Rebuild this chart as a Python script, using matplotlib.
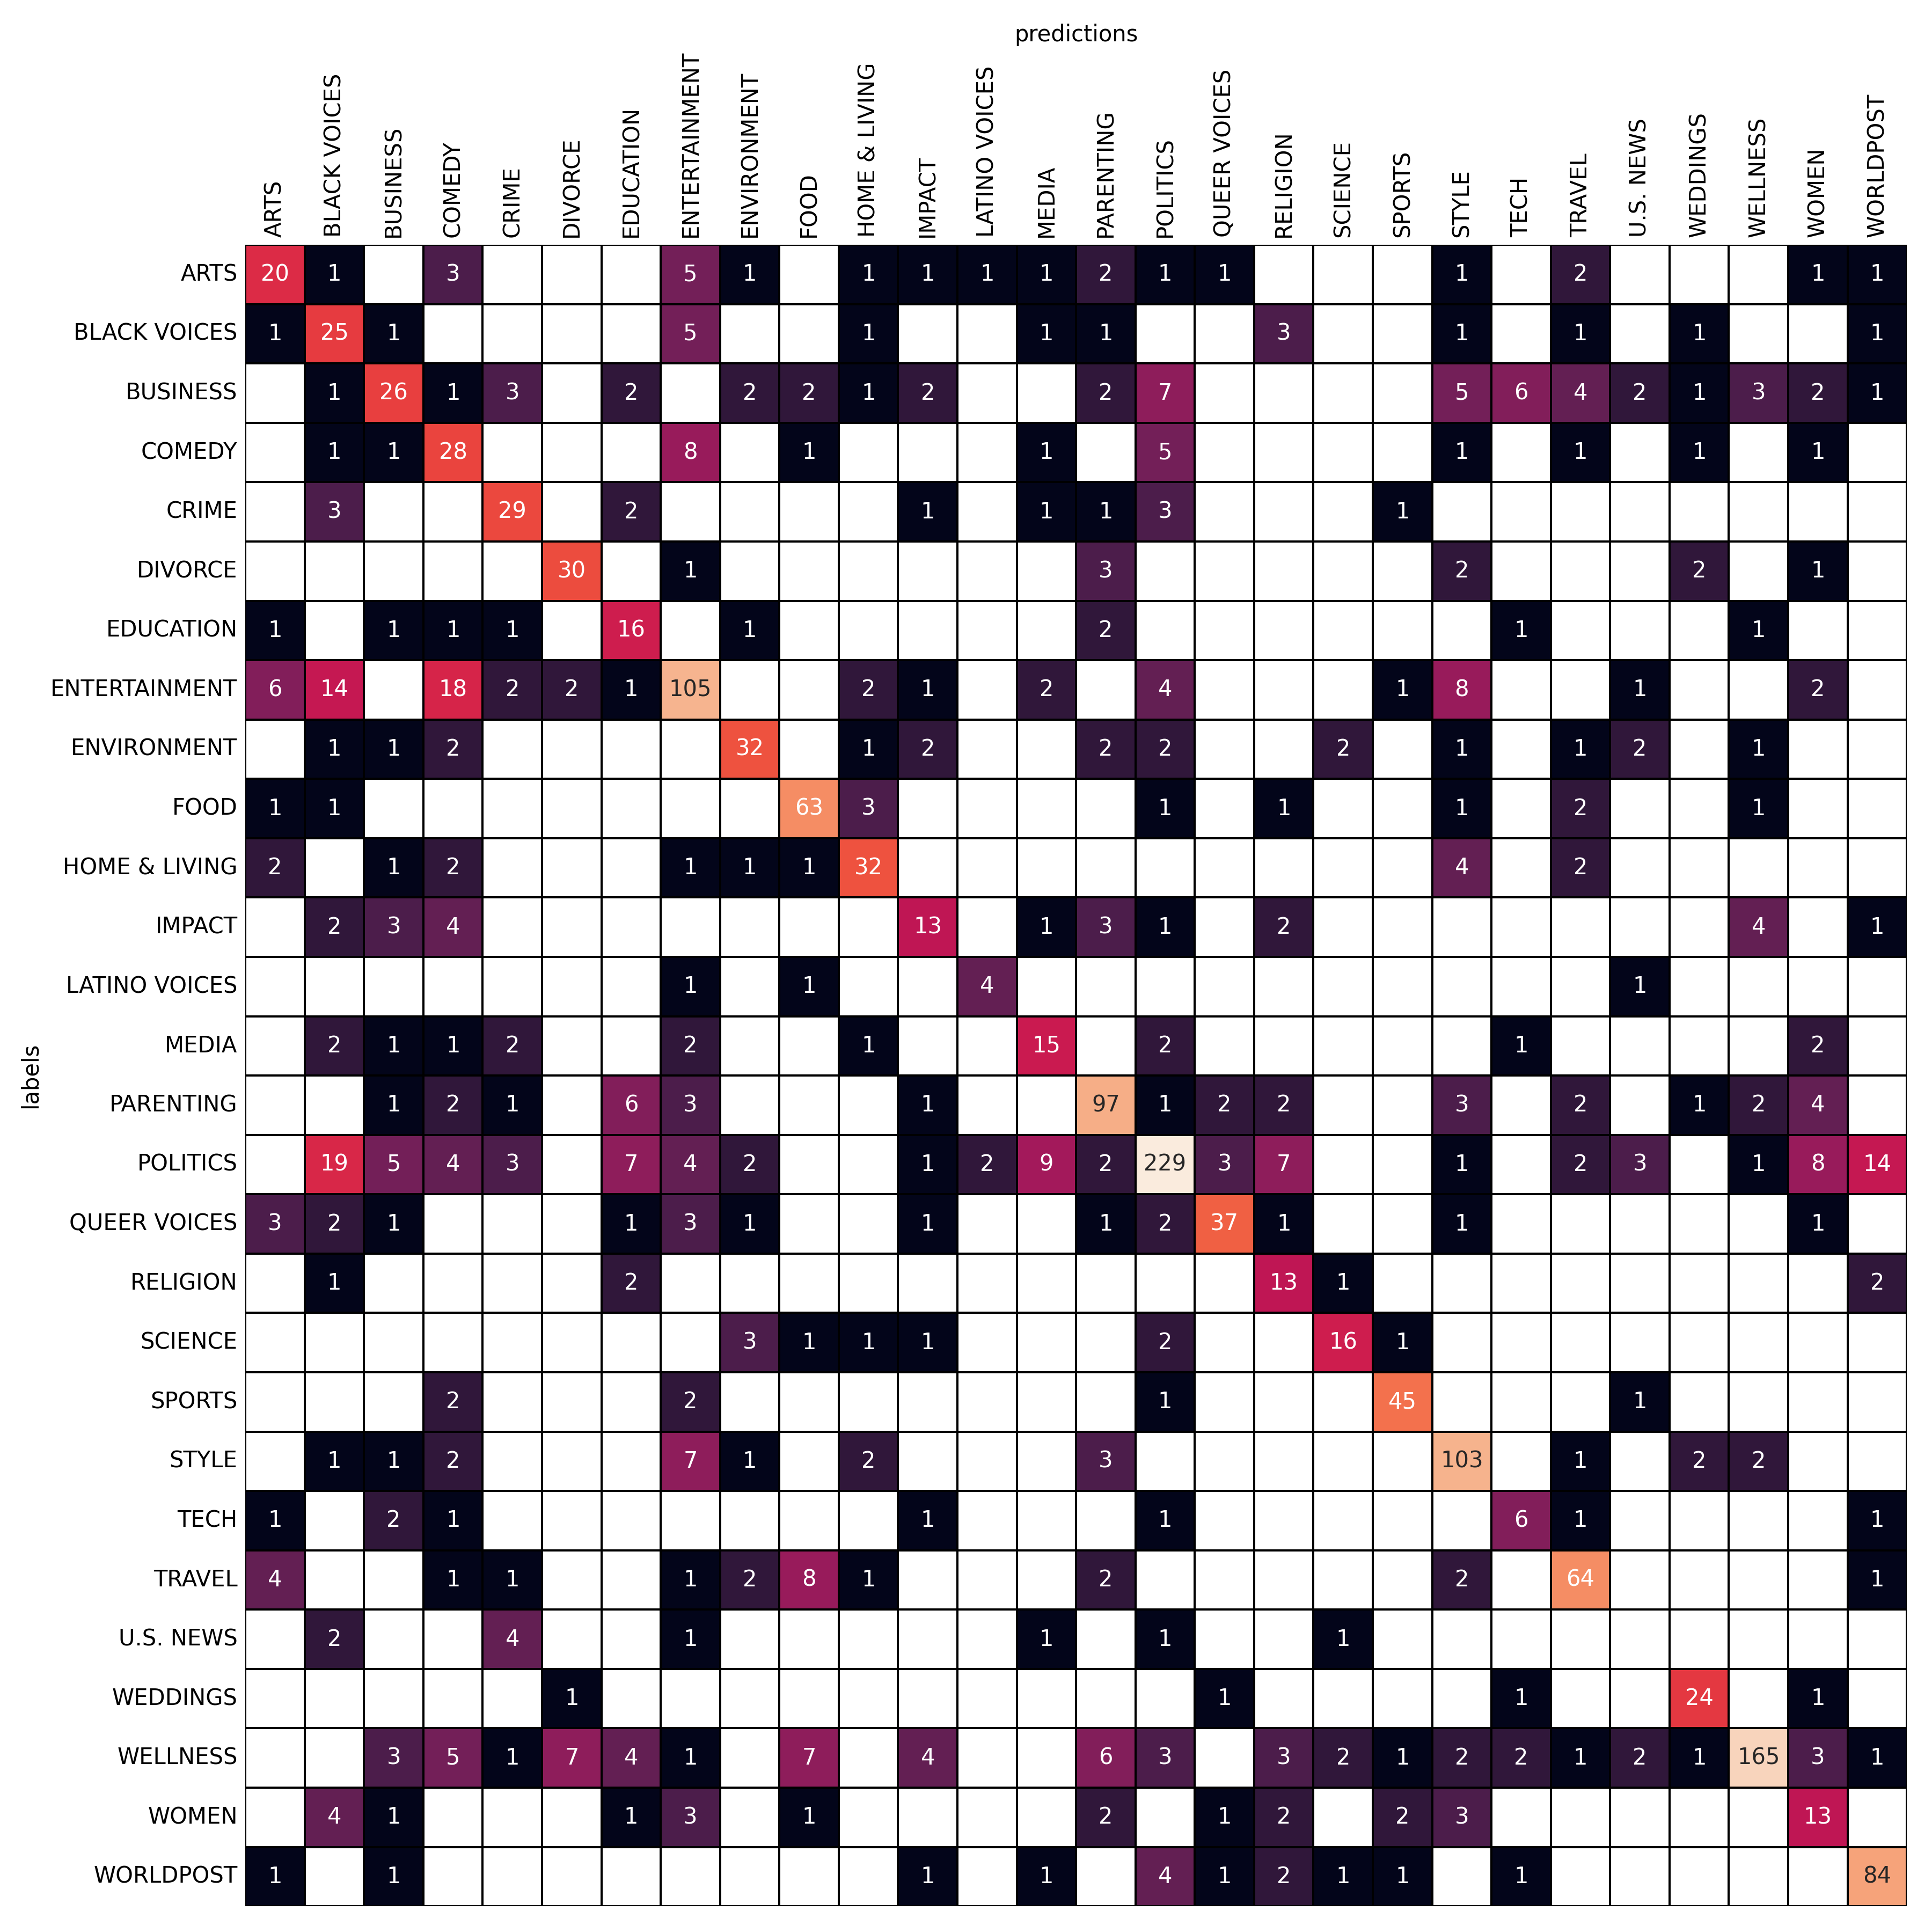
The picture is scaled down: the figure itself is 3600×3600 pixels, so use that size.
import numpy as np
import matplotlib
matplotlib.use("Agg")
import matplotlib.pyplot as plt
import seaborn as sns
from matplotlib.colors import LogNorm

categories = ["ARTS", "BLACK VOICES", "BUSINESS", "COMEDY", "CRIME", "DIVORCE",
              "EDUCATION", "ENTERTAINMENT", "ENVIRONMENT", "FOOD", "HOME & LIVING",
              "IMPACT", "LATINO VOICES", "MEDIA", "PARENTING", "POLITICS",
              "QUEER VOICES", "RELIGION", "SCIENCE", "SPORTS", "STYLE", "TECH",
              "TRAVEL", "U.S. NEWS", "WEDDINGS", "WELLNESS", "WOMEN", "WORLDPOST"]

# nonzero counts per true label: {predicted: count}
counts = {
    "ARTS": {"ARTS": 20, "BLACK VOICES": 1, "COMEDY": 3, "ENTERTAINMENT": 5, "ENVIRONMENT": 1,
             "HOME & LIVING": 1, "IMPACT": 1, "LATINO VOICES": 1, "MEDIA": 1, "PARENTING": 2,
             "POLITICS": 1, "QUEER VOICES": 1, "STYLE": 1, "TRAVEL": 2, "WOMEN": 1, "WORLDPOST": 1},
    "BLACK VOICES": {"ARTS": 1, "BLACK VOICES": 25, "BUSINESS": 1, "ENTERTAINMENT": 5,
                     "HOME & LIVING": 1, "MEDIA": 1, "PARENTING": 1, "RELIGION": 3, "STYLE": 1,
                     "TRAVEL": 1, "WEDDINGS": 1, "WORLDPOST": 1},
    "BUSINESS": {"BLACK VOICES": 1, "BUSINESS": 26, "COMEDY": 1, "CRIME": 3, "EDUCATION": 2,
                 "ENVIRONMENT": 2, "FOOD": 2, "HOME & LIVING": 1, "IMPACT": 2, "PARENTING": 2,
                 "POLITICS": 7, "STYLE": 5, "TECH": 6, "TRAVEL": 4, "U.S. NEWS": 2, "WEDDINGS": 1,
                 "WELLNESS": 3, "WOMEN": 2, "WORLDPOST": 1},
    "COMEDY": {"BLACK VOICES": 1, "BUSINESS": 1, "COMEDY": 28, "ENTERTAINMENT": 8, "FOOD": 1,
               "MEDIA": 1, "POLITICS": 5, "STYLE": 1, "TRAVEL": 1, "WEDDINGS": 1, "WOMEN": 1},
    "CRIME": {"BLACK VOICES": 3, "CRIME": 29, "EDUCATION": 2, "IMPACT": 1, "MEDIA": 1,
              "PARENTING": 1, "POLITICS": 3, "SPORTS": 1},
    "DIVORCE": {"DIVORCE": 30, "ENTERTAINMENT": 1, "PARENTING": 3, "STYLE": 2, "WEDDINGS": 2,
                "WOMEN": 1},
    "EDUCATION": {"ARTS": 1, "BUSINESS": 1, "COMEDY": 1, "CRIME": 1, "EDUCATION": 16,
                  "ENVIRONMENT": 1, "PARENTING": 2, "TECH": 1, "WELLNESS": 1},
    "ENTERTAINMENT": {"ARTS": 6, "BLACK VOICES": 14, "COMEDY": 18, "CRIME": 2, "DIVORCE": 2,
                      "EDUCATION": 1, "ENTERTAINMENT": 105, "HOME & LIVING": 2, "IMPACT": 1,
                      "MEDIA": 2, "POLITICS": 4, "SPORTS": 1, "STYLE": 8, "U.S. NEWS": 1,
                      "WOMEN": 2},
    "ENVIRONMENT": {"BLACK VOICES": 1, "BUSINESS": 1, "COMEDY": 2, "ENVIRONMENT": 32,
                    "HOME & LIVING": 1, "IMPACT": 2, "PARENTING": 2, "POLITICS": 2, "SCIENCE": 2,
                    "STYLE": 1, "TRAVEL": 1, "U.S. NEWS": 2, "WELLNESS": 1},
    "FOOD": {"ARTS": 1, "BLACK VOICES": 1, "FOOD": 63, "HOME & LIVING": 3, "POLITICS": 1,
             "RELIGION": 1, "STYLE": 1, "TRAVEL": 2, "WELLNESS": 1},
    "HOME & LIVING": {"ARTS": 2, "BUSINESS": 1, "COMEDY": 2, "ENTERTAINMENT": 1,
                      "ENVIRONMENT": 1, "FOOD": 1, "HOME & LIVING": 32, "STYLE": 4, "TRAVEL": 2},
    "IMPACT": {"BLACK VOICES": 2, "BUSINESS": 3, "COMEDY": 4, "IMPACT": 13, "MEDIA": 1,
               "PARENTING": 3, "POLITICS": 1, "RELIGION": 2, "WELLNESS": 4, "WORLDPOST": 1},
    "LATINO VOICES": {"ENTERTAINMENT": 1, "FOOD": 1, "LATINO VOICES": 4, "U.S. NEWS": 1},
    "MEDIA": {"BLACK VOICES": 2, "BUSINESS": 1, "COMEDY": 1, "CRIME": 2, "ENTERTAINMENT": 2,
              "HOME & LIVING": 1, "MEDIA": 15, "POLITICS": 2, "TECH": 1, "WOMEN": 2},
    "PARENTING": {"BUSINESS": 1, "COMEDY": 2, "CRIME": 1, "EDUCATION": 6, "ENTERTAINMENT": 3,
                  "IMPACT": 1, "PARENTING": 97, "POLITICS": 1, "QUEER VOICES": 2, "RELIGION": 2,
                  "STYLE": 3, "TRAVEL": 2, "WEDDINGS": 1, "WELLNESS": 2, "WOMEN": 4},
    "POLITICS": {"BLACK VOICES": 19, "BUSINESS": 5, "COMEDY": 4, "CRIME": 3, "EDUCATION": 7,
                 "ENTERTAINMENT": 4, "ENVIRONMENT": 2, "IMPACT": 1, "LATINO VOICES": 2,
                 "MEDIA": 9, "PARENTING": 2, "POLITICS": 229, "QUEER VOICES": 3, "RELIGION": 7,
                 "STYLE": 1, "TRAVEL": 2, "U.S. NEWS": 3, "WELLNESS": 1, "WOMEN": 8,
                 "WORLDPOST": 14},
    "QUEER VOICES": {"ARTS": 3, "BLACK VOICES": 2, "BUSINESS": 1, "EDUCATION": 1,
                     "ENTERTAINMENT": 3, "ENVIRONMENT": 1, "IMPACT": 1, "PARENTING": 1,
                     "POLITICS": 2, "QUEER VOICES": 37, "RELIGION": 1, "STYLE": 1, "WOMEN": 1},
    "RELIGION": {"BLACK VOICES": 1, "EDUCATION": 2, "RELIGION": 13, "SCIENCE": 1,
                 "WORLDPOST": 2},
    "SCIENCE": {"ENVIRONMENT": 3, "FOOD": 1, "HOME & LIVING": 1, "IMPACT": 1, "POLITICS": 2,
                "SCIENCE": 16, "SPORTS": 1},
    "SPORTS": {"COMEDY": 2, "ENTERTAINMENT": 2, "POLITICS": 1, "SPORTS": 45, "U.S. NEWS": 1},
    "STYLE": {"BLACK VOICES": 1, "BUSINESS": 1, "COMEDY": 2, "ENTERTAINMENT": 7,
              "ENVIRONMENT": 1, "HOME & LIVING": 2, "PARENTING": 3, "STYLE": 103, "TRAVEL": 1,
              "WEDDINGS": 2, "WELLNESS": 2},
    "TECH": {"ARTS": 1, "BUSINESS": 2, "COMEDY": 1, "IMPACT": 1, "POLITICS": 1, "TECH": 6,
             "TRAVEL": 1, "WORLDPOST": 1},
    "TRAVEL": {"ARTS": 4, "COMEDY": 1, "CRIME": 1, "ENTERTAINMENT": 1, "ENVIRONMENT": 2,
               "FOOD": 8, "HOME & LIVING": 1, "PARENTING": 2, "STYLE": 2, "TRAVEL": 64,
               "WORLDPOST": 1},
    "U.S. NEWS": {"BLACK VOICES": 2, "CRIME": 4, "ENTERTAINMENT": 1, "MEDIA": 1, "POLITICS": 1,
                  "SCIENCE": 1},
    "WEDDINGS": {"DIVORCE": 1, "QUEER VOICES": 1, "TECH": 1, "WEDDINGS": 24, "WOMEN": 1},
    "WELLNESS": {"BUSINESS": 3, "COMEDY": 5, "CRIME": 1, "DIVORCE": 7, "EDUCATION": 4,
                 "ENTERTAINMENT": 1, "FOOD": 7, "IMPACT": 4, "PARENTING": 6, "POLITICS": 3,
                 "RELIGION": 3, "SCIENCE": 2, "SPORTS": 1, "STYLE": 2, "TECH": 2, "TRAVEL": 1,
                 "U.S. NEWS": 2, "WEDDINGS": 1, "WELLNESS": 165, "WOMEN": 3, "WORLDPOST": 1},
    "WOMEN": {"BLACK VOICES": 4, "BUSINESS": 1, "EDUCATION": 1, "ENTERTAINMENT": 3, "FOOD": 1,
              "PARENTING": 2, "QUEER VOICES": 1, "RELIGION": 2, "SPORTS": 2, "STYLE": 3,
              "WOMEN": 13},
    "WORLDPOST": {"ARTS": 1, "BUSINESS": 1, "IMPACT": 1, "MEDIA": 1, "POLITICS": 4,
                  "QUEER VOICES": 1, "RELIGION": 2, "SCIENCE": 1, "SPORTS": 1, "TECH": 1,
                  "WORLDPOST": 84},
}

# %%
idx = {c: i for i, c in enumerate(categories)}
cm = np.zeros((len(categories), len(categories)), dtype=int)
for lab, row in counts.items():
    for pred, n in row.items():
        cm[idx[lab], idx[pred]] = n

cmap = sns.color_palette("rocket", as_cmap=True).copy()
cmap.set_bad("white")

fig = plt.figure(figsize=(12, 12), dpi=300)
ax = fig.add_axes([0.127, 0.0133, 0.86, 0.86])
sns.heatmap(cm, mask=(cm == 0), annot=True, fmt="d", cmap=cmap,
            norm=LogNorm(vmin=1, vmax=cm.max()), cbar=False,
            linewidths=0.5, linecolor="black",
            xticklabels=categories, yticklabels=categories, ax=ax)
ax.xaxis.tick_top()
ax.xaxis.set_label_position("top")
ax.set_xlabel("predictions")
ax.set_ylabel("labels")
plt.setp(ax.get_xticklabels(), rotation=90)
plt.setp(ax.get_yticklabels(), rotation=0)
ax.tick_params(length=0)
fig.savefig("out.png", dpi=300)
